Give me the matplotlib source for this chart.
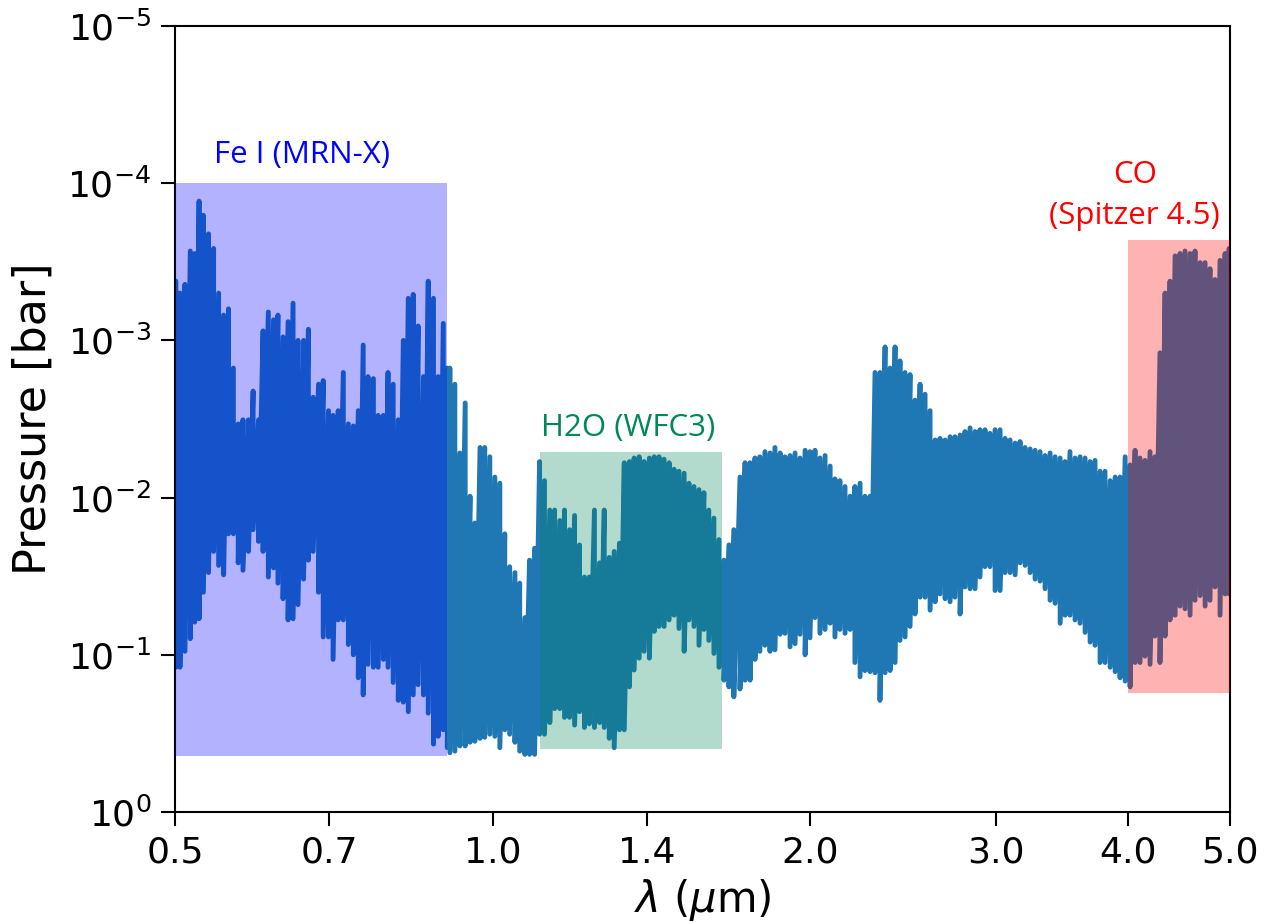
import numpy as np
import matplotlib
matplotlib.use('Agg')
import matplotlib.pyplot as plt
from matplotlib.ticker import NullLocator

# Espectro: longitud de onda (um) y envolvente de presion (bar)
wavelength = [
    0.501, 0.5055, 0.511, 0.517, 0.522, 0.527, 0.532, 0.538, 0.544, 0.550,
    0.556, 0.562, 0.568, 0.574, 0.580, 0.587, 0.593, 0.600, 0.606, 0.613,
    0.620, 0.626, 0.633, 0.640, 0.647, 0.654, 0.662, 0.669, 0.676, 0.684,
    0.691, 0.699, 0.706, 0.714, 0.722, 0.730, 0.738, 0.746, 0.754, 0.762,
    0.771, 0.779, 0.788, 0.796, 0.805, 0.814, 0.823, 0.832, 0.841, 0.850,
    0.860, 0.869, 0.879, 0.888, 0.898, 0.906,
    0.911, 0.921, 0.931, 0.942, 0.952, 0.962, 0.973, 0.983, 0.994, 1.005,
    1.016, 1.027, 1.038, 1.050, 1.061, 1.073, 1.084, 1.096, 1.108, 1.120,
    1.133, 1.145, 1.158, 1.170, 1.183, 1.196, 1.209, 1.222, 1.235, 1.249,
    1.263, 1.276, 1.290, 1.304, 1.319, 1.333, 1.348, 1.362, 1.377, 1.392,
    1.408, 1.423, 1.438, 1.454, 1.470, 1.486, 1.502, 1.519, 1.535, 1.552,
    1.569, 1.586, 1.603, 1.621, 1.639, 1.657, 1.675, 1.693,
    1.716, 1.735, 1.754, 1.773, 1.792, 1.812, 1.832, 1.852, 1.873, 1.893,
    1.914, 1.935, 1.956, 1.978, 1.999, 2.021, 2.043, 2.066, 2.089, 2.111,
    2.134, 2.158, 2.182, 2.205, 2.230, 2.254, 2.279, 2.304, 2.329, 2.355,
    2.381, 2.407, 2.433, 2.460, 2.487, 2.514, 2.542, 2.570, 2.598, 2.627,
    2.655, 2.685, 2.714, 2.743, 2.774, 2.804, 2.835, 2.866, 2.897, 2.929,
    2.961, 2.994, 3.027,
    3.060, 3.094, 3.128, 3.162, 3.197, 3.232, 3.267, 3.303, 3.339, 3.376,
    3.413, 3.451, 3.488, 3.526, 3.565, 3.604, 3.644, 3.684, 3.724, 3.765,
    3.806, 3.849, 3.891, 3.933, 3.977, 4.020, 4.064, 4.108, 4.153, 4.199,
    4.245, 4.291, 4.339, 4.386, 4.435, 4.483, 4.532, 4.582, 4.632, 4.684,
    4.735, 4.786, 4.839, 4.892, 4.946, 4.990,
]

# presion minima alcanzada (picos hacia arriba)
p_top = [
    4.2e-4, 5.0e-4, 4.4e-4, 2.7e-4, 2.8e-4, 1.3e-4, 1.6e-4, 2.1e-4, 2.6e-4, 5.0e-4,
    6.9e-4, 6.3e-4, 1.5e-3, 3.4e-3, 3.2e-3, 3.2e-3, 2.1e-3, 3.2e-3, 8.7e-4, 6.6e-4,
    7.4e-4, 6.9e-4, 9.5e-4, 7.6e-4, 5.8e-4, 1.0e-3, 1.0e-3, 8.5e-4, 2.3e-3, 1.9e-3,
    1.8e-3, 2.8e-3, 3.0e-3, 2.8e-3, 1.6e-3, 3.4e-3, 3.5e-3, 2.8e-3, 1.07e-3, 1.7e-3,
    1.75e-3, 3.0e-3, 3.0e-3, 1.6e-3, 1.9e-3, 3.2e-3, 1.0e-3, 5.4e-4, 5.1e-4, 8.1e-4,
    1.7e-3, 4.2e-4, 5.4e-4, 1.7e-3, 7.8e-4, 1.5e-3,
    1.5e-3, 1.9e-3, 5.2e-3, 2.5e-3, 9.8e-3, 0.0145, 4.8e-3, 4.8e-3, 5.5e-3, 7.4e-3,
    8.1e-3, 0.017, 0.0275, 0.030, 0.035, 0.058, 0.025, 0.021, 5.9e-3, 7.8e-3,
    0.012, 0.012, 0.014, 0.012, 0.016, 0.013, 0.020, 0.032, 0.032, 0.012,
    0.026, 0.012, 0.024, 0.022, 0.0195, 6.0e-3, 5.9e-3, 5.6e-3, 5.5e-3, 5.9e-3,
    5.6e-3, 5.5e-3, 5.5e-3, 5.7e-3, 6.0e-3, 6.6e-3, 6.8e-3, 7.0e-3, 8.1e-3, 8.5e-3,
    8.9e-3, 9.3e-3, 0.012, 0.0135, 0.0185, 0.025, 0.020, 0.016,
    7.4e-3, 6.0e-3, 6.0e-3, 5.6e-3, 5.5e-3, 5.1e-3, 5.2e-3, 4.8e-3, 5.2e-3, 5.5e-3,
    5.4e-3, 5.2e-3, 5.6e-3, 5.0e-3, 5.1e-3, 5.0e-3, 5.6e-3, 5.4e-3, 6.3e-3, 7.6e-3,
    7.8e-3, 8.5e-3, 9.8e-3, 8.5e-3, 8.1e-3, 9.8e-3, 9.8e-3, 1.6e-3, 1.6e-3, 1.1e-3,
    1.5e-3, 1.1e-3, 1.35e-3, 1.6e-3, 1.65e-3, 2.4e-3, 1.9e-3, 2.2e-3, 2.8e-3, 4.3e-3,
    4.2e-3, 4.3e-3, 4.1e-3, 4.1e-3, 4.0e-3, 3.8e-3, 3.6e-3, 3.8e-3, 3.7e-3, 3.7e-3,
    3.9e-3, 3.7e-3, 3.7e-3,
    4.2e-3, 4.3e-3, 4.5e-3, 4.4e-3, 4.8e-3, 4.9e-3, 5.0e-3, 5.1e-3, 5.4e-3, 5.2e-3,
    5.5e-3, 5.6e-3, 5.9e-3, 5.1e-3, 5.6e-3, 5.5e-3, 5.6e-3, 5.9e-3, 5.8e-3, 6.8e-3,
    6.8e-3, 7.8e-3, 7.4e-3, 7.4e-3, 5.5e-3, 6.2e-3, 5.0e-3, 5.6e-3, 5.8e-3, 5.1e-3,
    5.5e-3, 1.2e-3, 5.0e-4, 4.2e-4, 2.9e-4, 2.8e-4, 2.7e-4, 2.8e-4, 2.7e-4, 3.2e-4,
    3.2e-4, 3.5e-4, 4.1e-4, 3.1e-4, 2.8e-4, 2.6e-4,
]

# presion maxima alcanzada (picos hacia abajo)
p_bottom = [
    0.12, 0.12, 0.095, 0.079, 0.062, 0.059, 0.040, 0.030, 0.022, 0.027,
    0.031, 0.017, 0.017, 0.026, 0.029, 0.022, 0.016, 0.019, 0.022, 0.032,
    0.028, 0.035, 0.044, 0.060, 0.059, 0.048, 0.033, 0.025, 0.022, 0.040,
    0.077, 0.077, 0.107, 0.060, 0.060, 0.086, 0.10, 0.14, 0.18, 0.115,
    0.12, 0.12, 0.107, 0.12, 0.15, 0.195, 0.20, 0.23, 0.18, 0.155,
    0.18, 0.235, 0.37, 0.33, 0.30, 0.39,
    0.42, 0.41, 0.38, 0.38, 0.36, 0.355, 0.34, 0.335, 0.32, 0.33,
    0.39, 0.30, 0.32, 0.36, 0.41, 0.43, 0.43, 0.43, 0.32, 0.32,
    0.27, 0.22, 0.22, 0.25, 0.25, 0.28, 0.23, 0.29, 0.275, 0.29,
    0.27, 0.29, 0.34, 0.39, 0.30, 0.30, 0.16, 0.125, 0.105, 0.095,
    0.105, 0.071, 0.066, 0.066, 0.060, 0.056, 0.068, 0.095, 0.060, 0.066,
    0.087, 0.069, 0.081, 0.098, 0.12, 0.145, 0.16, 0.185,
    0.165, 0.145, 0.145, 0.107, 0.095, 0.087, 0.095, 0.093, 0.074, 0.073,
    0.089, 0.085, 0.074, 0.10, 0.078, 0.058, 0.073, 0.069, 0.063, 0.077,
    0.069, 0.073, 0.069, 0.112, 0.138, 0.126, 0.128, 0.13, 0.195, 0.13,
    0.126, 0.112, 0.081, 0.077, 0.066, 0.055, 0.043, 0.043, 0.052, 0.046,
    0.041, 0.044, 0.046, 0.043, 0.055, 0.037, 0.038, 0.038, 0.032, 0.0275,
    0.0275, 0.039, 0.039,
    0.030, 0.030, 0.031, 0.026, 0.027, 0.030, 0.033, 0.034, 0.038, 0.045,
    0.047, 0.063, 0.056, 0.056, 0.060, 0.063, 0.072, 0.083, 0.087, 0.112,
    0.112, 0.12, 0.128, 0.14, 0.147, 0.16, 0.112, 0.112, 0.102, 0.115,
    0.076, 0.112, 0.076, 0.060, 0.056, 0.049, 0.051, 0.056, 0.045, 0.042,
    0.049, 0.045, 0.037, 0.056, 0.041, 0.041,
]

xtick_vals = [0.5, 0.7, 1.0, 1.4, 2.0, 3.0, 4.0, 5.0]
xtick_labels = ['0.5', '0.7', '1.0', '1.4', '2.0', '3.0', '4.0', '5.0']

# Bandas sensibles a cada especie
band_names = ['Fe I (MRN-X)', 'H2O (WFC3)', 'CO\n(Spitzer 4.5)']
band_lmin = [0.5, 1.11, 4.0]
band_lmax = [0.905, 1.65, 5.0]
band_ptop = [1e-4, 5.1e-3, 2.3e-4]
band_pbot = [0.44, 0.40, 0.175]
band_colors = ['blue', '#00875a', 'red']
label_x = [0.66, 1.343, 4.06]
label_p = [6.6e-5, 3.6e-3, 1.2e-4]

# Convertir a arrays y armar la linea en zigzag (arriba-abajo en cada punto)
wl = np.array(wavelength)
x_line = np.repeat(wl, 2)
y_line = np.column_stack([p_top, p_bottom]).ravel()

fig = plt.figure(figsize=(12.66, 9.24), dpi=100)
ax = fig.add_axes([0.1382, 0.1212, 0.8334, 0.8507])

ax.plot(x_line, y_line, color='#1f77b4', lw=3.5, solid_joinstyle='round',
        solid_capstyle='round', zorder=2)

for i in range(len(band_names)):
    ax.fill_between([band_lmin[i], band_lmax[i]], band_ptop[i], band_pbot[i],
                    color=band_colors[i], alpha=0.3, lw=0, zorder=3)
    ax.text(label_x[i], label_p[i], band_names[i], color=band_colors[i],
            fontsize=22.5, family='Open Sans', ha='center', va='center',
            linespacing=1.45)

ax.set_xscale('log')
ax.set_yscale('log')
ax.set_xlim(0.5, 5.0)
ax.set_ylim(1, 1e-5)
ax.set_xticks(xtick_vals)
ax.set_xticklabels(xtick_labels)
ax.xaxis.set_minor_locator(NullLocator())
ax.yaxis.set_minor_locator(NullLocator())

ax.tick_params(axis='both', which='major', labelsize=26, length=10, width=1.5, pad=7)
for sp in ax.spines.values():
    sp.set_linewidth(1.5)

ax.set_xlabel(r'$\lambda$ ($\mu$m)', fontsize=30, labelpad=5)
ax.set_ylabel('Pressure [bar]', fontsize=32, labelpad=9)

fig.savefig('out.png', dpi=100)
